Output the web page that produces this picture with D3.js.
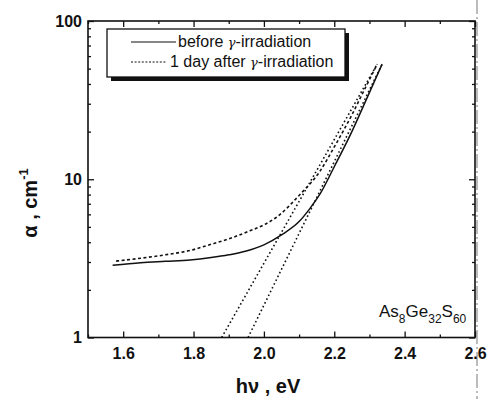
<!DOCTYPE html>
<html>
<head>
<meta charset="utf-8">
<script src="https://cdn.jsdelivr.net/npm/d3@7"></script>
<style>
  body { margin: 0; background: #fff; }
  svg { display: block; font-family: "Liberation Sans", Arial, sans-serif; }
  .axis path, .axis line { stroke: #111; }
  .axis text { font-size: 16px; font-weight: bold; fill: #111; }
</style>
</head>
<body>
<svg id="chart" width="487" height="399"></svg>
<script>
// values
let hvBefore    = [1.57, 1.65, 1.72, 1.79, 1.85, 1.90, 1.95, 2.00, 2.05, 2.10, 2.13, 2.16, 2.20, 2.25, 2.29, 2.336];
let alphaBefore = [2.86, 2.97, 3.03, 3.09, 3.20, 3.33, 3.52, 3.85, 4.45, 5.4, 6.5, 8.1, 12.0, 20.0, 31.5, 53.4];

let hvAfter    = [1.58, 1.65, 1.72, 1.79, 1.85, 1.90, 1.96, 2.00, 2.04, 2.10, 2.16, 2.20, 2.25, 2.29, 2.322];
let alphaAfter = [3.04, 3.17, 3.33, 3.55, 3.88, 4.20, 4.72, 5.15, 5.85, 7.9, 11.3, 16.0, 25.5, 38.5, 53.4];

// straight-line extrapolations (dotted)
let fitAfterHv     = [1.880, 2.322];
let fitAfterAlpha  = [1, 53.4];
let fitBeforeHv    = [1.955, 2.336];
let fitBeforeAlpha = [1, 53.4];

let xTicks = [1.6, 1.8, 2.0, 2.2, 2.4, 2.6];
let xMinor = [1.5, 1.7, 1.9, 2.1, 2.3, 2.5];
let yTicks = [1, 10, 100];
let yMinor = [2,3,4,5,6,7,8,9,20,30,40,50,60,70,80,90];

let legendLabels = ["before ", "1 day after "];

let svg = d3.select("#chart");
let mLeft = 88, mRight = 475, mTop = 21, mBottom = 337.5;

let x = d3.scaleLinear().domain([1.5, 2.6]).range([mLeft, mRight]);
let y = d3.scaleLog().domain([1, 100]).range([mBottom, mTop]);

let zip = (a, b) => a.map((v, i) => [v, b[i]]);
let line = d3.line().x(d => x(d[0])).y(d => y(d[1]));
let smooth = d3.line().x(d => x(d[0])).y(d => y(d[1])).curve(d3.curveMonotoneX);

// scan artefact on the right
svg.append("line")
  .attr("x1", 477).attr("x2", 477).attr("y1", 0).attr("y2", 399)
  .attr("stroke", "#555").attr("stroke-width", 0.8)
  .attr("stroke-dasharray", "14,3,2,3");

// frame
svg.append("rect")
  .attr("x", mLeft).attr("y", mTop)
  .attr("width", mRight - mLeft).attr("height", mBottom - mTop)
  .attr("fill", "none").attr("stroke", "#111").attr("stroke-width", 1.6);

// axes (ticks inward)
svg.append("g").attr("class", "axis")
  .attr("transform", `translate(0,${mBottom})`)
  .call(d3.axisBottom(x).tickValues(xTicks).tickFormat(d3.format(".1f")).tickSize(-6).tickPadding(10))
  .call(g => g.select(".domain").remove());
svg.append("g").attr("class", "axis")
  .attr("transform", `translate(0,${mBottom})`)
  .call(d3.axisBottom(x).tickValues(xMinor).tickFormat("").tickSize(-3))
  .call(g => g.select(".domain").remove());
svg.append("g").attr("class", "axis")
  .attr("transform", `translate(0,${mTop})`)
  .call(d3.axisTop(x).tickValues(xTicks).tickFormat("").tickSize(-6))
  .call(g => g.select(".domain").remove());
svg.append("g").attr("class", "axis")
  .attr("transform", `translate(0,${mTop})`)
  .call(d3.axisTop(x).tickValues(xMinor).tickFormat("").tickSize(-3))
  .call(g => g.select(".domain").remove());

svg.append("g").attr("class", "axis")
  .attr("transform", `translate(${mLeft},0)`)
  .call(d3.axisLeft(y).tickValues(yTicks).tickFormat(d3.format("d")).tickSize(-6).tickPadding(6))
  .call(g => g.select(".domain").remove());
svg.append("g").attr("class", "axis")
  .attr("transform", `translate(${mLeft},0)`)
  .call(d3.axisLeft(y).tickValues(yMinor).tickFormat("").tickSize(-3))
  .call(g => g.select(".domain").remove());
svg.append("g").attr("class", "axis")
  .attr("transform", `translate(${mRight},0)`)
  .call(d3.axisRight(y).tickValues(yTicks).tickFormat("").tickSize(-6))
  .call(g => g.select(".domain").remove());
svg.append("g").attr("class", "axis")
  .attr("transform", `translate(${mRight},0)`)
  .call(d3.axisRight(y).tickValues(yMinor).tickFormat("").tickSize(-3))
  .call(g => g.select(".domain").remove());

svg.selectAll(".axis line").attr("stroke-width", 1.3);

// curves
svg.append("path").datum(zip(fitAfterHv, fitAfterAlpha))
  .attr("d", line).attr("fill", "none").attr("stroke", "#111")
  .attr("stroke-width", 1.6).attr("stroke-dasharray", "1.6,2.6");
svg.append("path").datum(zip(fitBeforeHv, fitBeforeAlpha))
  .attr("d", line).attr("fill", "none").attr("stroke", "#111")
  .attr("stroke-width", 1.6).attr("stroke-dasharray", "1.6,2.6");
svg.append("path").datum(zip(hvAfter, alphaAfter))
  .attr("d", smooth).attr("fill", "none").attr("stroke", "#111")
  .attr("stroke-width", 1.6).attr("stroke-dasharray", "3,2.5");
svg.append("path").datum(zip(hvBefore, alphaBefore))
  .attr("d", smooth).attr("fill", "none").attr("stroke", "#111")
  .attr("stroke-width", 1.5);

// legend with shadow
let lg = svg.append("g");
lg.append("rect").attr("x", 111).attr("y", 33).attr("width", 238).attr("height", 48).attr("fill", "#111");
lg.append("rect").attr("x", 107).attr("y", 29).attr("width", 238).attr("height", 48)
  .attr("fill", "#fff").attr("stroke", "#111").attr("stroke-width", 1.3);
let styles = [null, "2,1.6"];
legendLabels.forEach((lab, i) => {
  let yy = 42 + i * 20;
  lg.append("line").attr("x1", 131).attr("x2", i ? 167 : 176).attr("y1", yy).attr("y2", yy)
    .attr("stroke", "#111").attr("stroke-width", 1.2)
    .attr("stroke-dasharray", styles[i]);
  let t = lg.append("text").attr("x", i ? 170 : 178).attr("y", yy + 5)
    .attr("font-size", 16).attr("fill", "#111");
  t.append("tspan").text(lab);
  t.append("tspan").attr("font-size", 13).attr("font-family", "DejaVu Serif, serif").attr("font-style", "italic").text("γ");
  t.append("tspan").text("-irradiation");
});

// compound label
let comp = svg.append("text").attr("x", 379).attr("y", 317).attr("font-size", 17).attr("fill", "#111");
[["As", 0], ["8", 1], ["Ge", 0], ["32", 1], ["S", 0], ["60", 1]].forEach((p, i) => {
  comp.append("tspan").text(p[0])
    .attr("font-size", p[1] ? 12 : 17)
    .attr("dy", i === 0 ? 0 : (p[1] ? 6 : -6));
});

// axis titles
svg.append("text").attr("x", 268).attr("y", 393).attr("text-anchor", "middle")
  .attr("font-size", 20).attr("font-weight", "bold").attr("fill", "#111")
  .text("hν , eV");

let yt = svg.append("text").attr("transform", "translate(37,203) rotate(-90)")
  .attr("text-anchor", "middle").attr("font-size", 20).attr("font-weight", "bold").attr("fill", "#111");
yt.append("tspan").text("α , cm");
yt.append("tspan").attr("font-size", 13).attr("dy", -9).text("-1");
</script>
</body>
</html>
